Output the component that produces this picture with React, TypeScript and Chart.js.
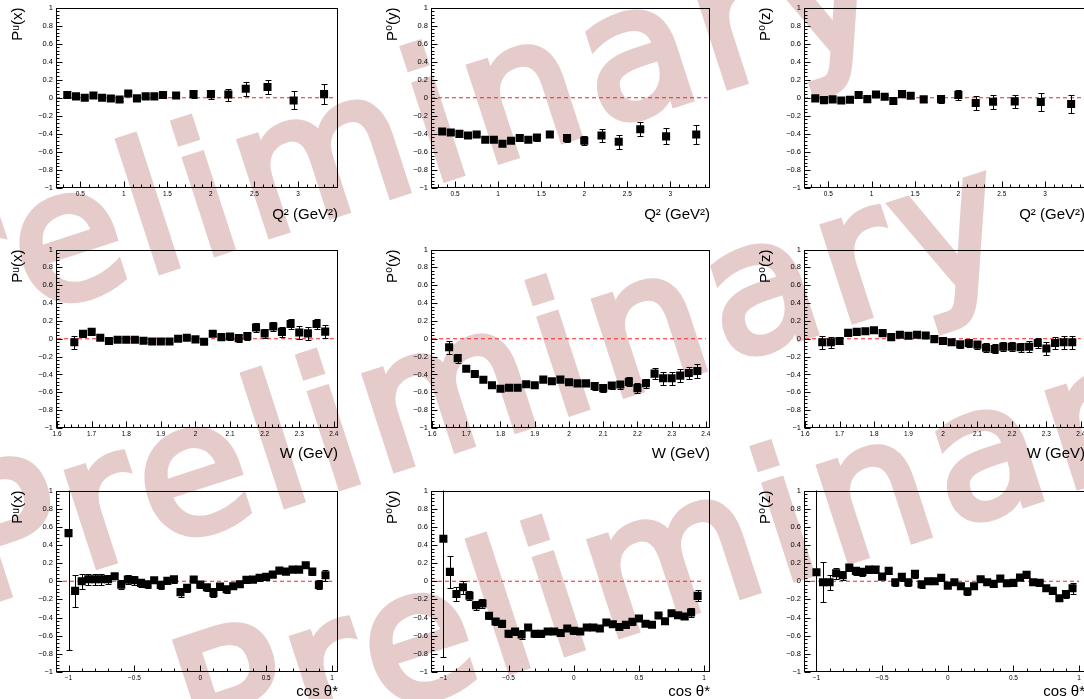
import React, { useEffect, useRef } from "react";
import { Chart, registerables } from "chart.js";

Chart.register(...registerables);
Chart.defaults.font.family = "'Liberation Sans', 'DejaVu Sans', sans-serif";

// ---------------- data ----------------
const q2Bins = [0.35, 0.45, 0.55, 0.65, 0.75, 0.85, 0.95, 1.05, 1.15, 1.25, 1.35, 1.45, 1.6, 1.8, 2.0, 2.2, 2.4, 2.65, 2.95, 3.3];
const puxQ2 = [0.03, 0.015, 0.0, 0.025, 0.0, -0.008, -0.02, 0.048, -0.007, 0.015, 0.015, 0.03, 0.025, 0.04, 0.04, 0.035, 0.1, 0.12, -0.03, 0.04];
const puxQ2Err = [0.02, 0.02, 0.02, 0.02, 0.02, 0.02, 0.02, 0.02, 0.025, 0.025, 0.03, 0.03, 0.03, 0.04, 0.05, 0.066, 0.08, 0.08, 0.1, 0.11];
const p0yQ2 = [-0.374, -0.385, -0.4, -0.418, -0.407, -0.465, -0.465, -0.51, -0.476, -0.447, -0.465, -0.44, -0.407, -0.447, -0.476, -0.418, -0.487, -0.348, -0.428, -0.407];
const p0yQ2Err = [0.02, 0.02, 0.02, 0.02, 0.02, 0.02, 0.02, 0.02, 0.025, 0.03, 0.03, 0.035, 0.03, 0.04, 0.05, 0.07, 0.077, 0.075, 0.09, 0.105];
const p0zQ2 = [-0.007, -0.026, -0.018, -0.03, -0.022, 0.03, -0.015, 0.037, 0.011, -0.037, 0.04, 0.022, -0.018, -0.015, 0.03, -0.059, -0.044, -0.04, -0.048, -0.07];
const p0zQ2Err = [0.02, 0.02, 0.02, 0.02, 0.02, 0.02, 0.02, 0.02, 0.025, 0.025, 0.03, 0.03, 0.03, 0.045, 0.055, 0.077, 0.077, 0.075, 0.1, 0.1];

const wBins = [1.65, 1.675, 1.7, 1.725, 1.75, 1.775, 1.8, 1.825, 1.85, 1.875, 1.9, 1.925, 1.95, 1.975, 2.0, 2.025, 2.05, 2.075, 2.1, 2.125, 2.15, 2.175, 2.2, 2.225, 2.25, 2.275, 2.3, 2.325, 2.35, 2.375];
const puxW = [-0.04, 0.055, 0.077, 0.011, -0.026, -0.011, -0.011, -0.011, -0.022, -0.03, -0.03, -0.03, 0.0, 0.011, -0.007, -0.033, 0.055, 0.018, 0.026, 0.007, 0.03, 0.125, 0.06, 0.137, 0.077, 0.166, 0.07, 0.06, 0.166, 0.08];
const puxWErr = [0.075, 0.04, 0.02, 0.02, 0.015, 0.015, 0.015, 0.015, 0.015, 0.015, 0.015, 0.015, 0.02, 0.02, 0.02, 0.02, 0.025, 0.03, 0.035, 0.04, 0.04, 0.05, 0.05, 0.05, 0.06, 0.06, 0.07, 0.07, 0.06, 0.075];
const p0yW = [-0.096, -0.218, -0.336, -0.395, -0.46, -0.52, -0.56, -0.55, -0.55, -0.51, -0.52, -0.458, -0.476, -0.458, -0.487, -0.5, -0.5, -0.53, -0.553, -0.524, -0.513, -0.483, -0.553, -0.498, -0.391, -0.443, -0.443, -0.413, -0.384, -0.362];
const p0yWErr = [0.07, 0.05, 0.025, 0.015, 0.015, 0.015, 0.015, 0.015, 0.015, 0.015, 0.015, 0.015, 0.02, 0.02, 0.025, 0.03, 0.03, 0.04, 0.04, 0.04, 0.045, 0.05, 0.06, 0.05, 0.06, 0.07, 0.07, 0.07, 0.07, 0.08];
const p0zW = [-0.04, -0.04, -0.026, 0.066, 0.077, 0.085, 0.096, 0.063, 0.018, 0.044, 0.033, 0.044, 0.037, -0.004, -0.026, -0.04, -0.063, -0.048, -0.066, -0.1, -0.114, -0.089, -0.089, -0.096, -0.089, -0.048, -0.11, -0.048, -0.04, -0.04];
const p0zWErr = [0.075, 0.06, 0.03, 0.015, 0.015, 0.015, 0.015, 0.015, 0.015, 0.015, 0.015, 0.015, 0.02, 0.02, 0.025, 0.03, 0.04, 0.04, 0.045, 0.05, 0.05, 0.05, 0.05, 0.05, 0.06, 0.06, 0.07, 0.07, 0.07, 0.07];

const cosBins = [-1, -0.95, -0.9, -0.85, -0.8, -0.75, -0.7, -0.65, -0.6, -0.55, -0.5, -0.45, -0.4, -0.35, -0.3, -0.25, -0.2, -0.15, -0.1, -0.05, 0, 0.05, 0.1, 0.15, 0.2, 0.25, 0.3, 0.35, 0.4, 0.45, 0.5, 0.55, 0.6, 0.65, 0.7, 0.75, 0.8, 0.85, 0.9, 0.95];
const puxCos = [0.53, -0.106, 0.0, 0.022, 0.022, 0.022, 0.022, 0.055, -0.037, 0.018, 0.011, -0.018, -0.033, 0.011, -0.04, 0.004, 0.022, -0.12, -0.073, 0.018, -0.037, -0.066, -0.128, -0.059, -0.088, -0.055, -0.033, 0.015, 0.018, 0.037, 0.048, 0.073, 0.117, 0.106, 0.128, 0.128, 0.176, 0.106, -0.04, 0.066];
const puxCosErr = [1.29, 0.18, 0.085, 0.06, 0.06, 0.06, 0.05, 0.03, 0.05, 0.05, 0.05, 0.04, 0.04, 0.03, 0.04, 0.03, 0.04, 0.05, 0.04, 0.03, 0.04, 0.04, 0.05, 0.04, 0.04, 0.03, 0.03, 0.02, 0.02, 0.02, 0.02, 0.02, 0.02, 0.02, 0.02, 0.02, 0.02, 0.04, 0.05, 0.06];
const p0yCos = [0.469, 0.103, -0.14, -0.066, -0.16, -0.264, -0.245, -0.38, -0.443, -0.469, -0.579, -0.553, -0.586, -0.509, -0.579, -0.579, -0.553, -0.553, -0.571, -0.52, -0.546, -0.553, -0.509, -0.509, -0.52, -0.454, -0.473, -0.505, -0.48, -0.447, -0.41, -0.469, -0.48, -0.377, -0.44, -0.352, -0.374, -0.388, -0.344, -0.161];
const p0yCosErr = [1.3, 0.18, 0.08, 0.07, 0.05, 0.05, 0.05, 0.04, 0.04, 0.04, 0.04, 0.04, 0.05, 0.03, 0.04, 0.04, 0.03, 0.03, 0.03, 0.03, 0.03, 0.03, 0.03, 0.03, 0.03, 0.03, 0.03, 0.03, 0.03, 0.03, 0.02, 0.02, 0.02, 0.02, 0.02, 0.02, 0.02, 0.03, 0.05, 0.06];
const p0zCos = [0.099, -0.011, -0.011, 0.088, 0.066, 0.15, 0.114, 0.103, 0.128, 0.128, 0.051, 0.114, -0.011, 0.048, -0.011, 0.081, -0.033, 0.0, 0.0, 0.037, -0.048, -0.011, -0.055, -0.11, -0.055, 0.022, -0.011, -0.029, 0.029, -0.022, -0.018, 0.04, 0.07, -0.011, -0.018, -0.077, -0.106, -0.187, -0.14, -0.077];
const p0zCosErr = [1.5, 0.22, 0.08, 0.06, 0.05, 0.04, 0.04, 0.04, 0.04, 0.04, 0.03, 0.03, 0.04, 0.04, 0.04, 0.04, 0.04, 0.03, 0.03, 0.03, 0.03, 0.03, 0.03, 0.04, 0.03, 0.03, 0.03, 0.03, 0.03, 0.03, 0.03, 0.02, 0.02, 0.02, 0.02, 0.02, 0.02, 0.03, 0.04, 0.06];

// tick labels
const yTicks = [-1, -0.8, -0.6, -0.4, -0.2, 0, 0.2, 0.4, 0.6, 0.8, 1];
const q2Ticks = [0.5, 1, 1.5, 2, 2.5, 3];
const wTicks = [1.6, 1.7, 1.8, 1.9, 2, 2.1, 2.2, 2.3, 2.4];
const cosTicks = [-1, -0.5, 0, 0.5, 1];

const yTitles = ["P\u1D58(x)", "P\u2070(y)", "P\u2070(z)"];
const xTitles = ["Q\u00B2 (GeV\u00B2)", "W (GeV)", "cos \u03B8*"];
const watermarkText = "Preliminary";

// ---------------- layout / style ----------------
const AXES: any[] = [
  { min: 0.22, max: 3.46, ticks: q2Ticks, minor: 0.1, line: [0.22, 3.43] },
  { min: 1.597, max: 2.412, ticks: wTicks, minor: 0.02, line: [1.6, 2.4] },
  { min: -1.095, max: 1.045, ticks: cosTicks, minor: 0.1, line: [-1.095, 1.0] },
];
const COL_LEFT = [56, 431, 804];
const COL_W = [282, 279, 281];
const ROW_TOP = [6, 248, 489];
const ROW_H = [182, 180, 183];
const TITLE_PB = [4, 5, 11];
const Y_AXIS_W = 56;
const X_AXIS_H = 40;
const PAD_TOP = 6;
const PAD_RIGHT = 8;

const ROWS = [
  [[q2Bins, puxQ2, puxQ2Err], [q2Bins, p0yQ2, p0yQ2Err], [q2Bins, p0zQ2, p0zQ2Err]],
  [[wBins, puxW, puxWErr], [wBins, p0yW, p0yWErr], [wBins, p0zW, p0zWErr]],
  [[cosBins, puxCos, puxCosErr], [cosBins, p0yCos, p0yCosErr], [cosBins, p0zCos, p0zCosErr]],
];

function fmt(v: number) {
  const r = Math.round(v * 1000) / 1000;
  return String(r).replace("-", "\u2212");
}

const rootPlugin = {
  id: "rootStyle",
  beforeDatasetDraw(chart: any, args: any) {
    if (args.index !== 1) return;
    const ds = chart.data.datasets[1];
    const errs: number[] = ds.errors;
    const { ctx, chartArea: a, scales } = chart;
    const xs = scales.x, ys = scales.y;
    ctx.save();
    ctx.beginPath();
    ctx.rect(a.left, a.top, a.right - a.left, a.bottom - a.top);
    ctx.clip();
    ctx.strokeStyle = "#000";
    ctx.lineWidth = 1;
    ds.data.forEach((p: any, i: number) => {
      const px = Math.round(xs.getPixelForValue(p.x)) + 0.5;
      const y1 = Math.round(ys.getPixelForValue(p.y + errs[i])) + 0.5;
      const y2 = Math.round(ys.getPixelForValue(p.y - errs[i])) + 0.5;
      ctx.beginPath();
      ctx.moveTo(px, y1);
      ctx.lineTo(px, y2);
      ctx.moveTo(px - 3, y1);
      ctx.lineTo(px + 3, y1);
      ctx.moveTo(px - 3, y2);
      ctx.lineTo(px + 3, y2);
      ctx.stroke();
    });
    ctx.restore();
  },
  afterDraw(chart: any) {
    const { ctx, chartArea: a, scales } = chart;
    const xs = scales.x, ys = scales.y;
    const ax = chart.options.plugins.rootStyle;
    ctx.save();
    ctx.strokeStyle = "#000";
    ctx.lineWidth = 1;
    const L = Math.round(a.left) + 0.5, R = Math.round(a.right) - 0.5;
    const T = Math.round(a.top) + 0.5, B = Math.round(a.bottom) - 0.5;
    ctx.strokeRect(L, T, R - L, B - T);
    ctx.beginPath();
    for (let k = -25; k <= 25; k++) {
      const v = k * 0.04;
      const py = Math.round(ys.getPixelForValue(v)) + 0.5;
      const len = k % 5 === 0 ? 6 : 3;
      ctx.moveTo(L, py);
      ctx.lineTo(L + len, py);
    }
    const step = ax.minor;
    const kmin = Math.ceil(ax.min / step - 1e-6), kmax = Math.floor(ax.max / step + 1e-6);
    for (let k = kmin; k <= kmax; k++) {
      const v = k * step;
      const isMajor = ax.ticks.some((t: number) => Math.abs(t - v) < 1e-6);
      const px = Math.round(xs.getPixelForValue(v)) + 0.5;
      const len = isMajor ? 6 : 3;
      ctx.moveTo(px, B);
      ctx.lineTo(px, B - len);
    }
    ctx.stroke();
    ctx.restore();
  },
};

function buildConfig(r: number, c: number): any {
  const ax = AXES[r];
  const [xv, yv, ev] = ROWS[r][c] as number[][];
  return {
    type: "scatter",
    data: {
      datasets: [
        {
          data: [{ x: ax.line[0], y: 0 }, { x: ax.line[1], y: 0 }],
          showLine: true,
          borderColor: "#ff2020",
          borderWidth: 1.2,
          borderDash: [4, 3],
          pointRadius: 0,
          order: 2,
        },
        {
          data: xv.map((x, i) => ({ x, y: yv[i] })),
          errors: ev,
          pointStyle: "rect",
          pointRadius: 5.7,
          backgroundColor: "#000",
          borderColor: "#000",
          borderWidth: 0,
          order: 1,
        },
      ],
    },
    options: {
      responsive: false,
      animation: false,
      events: [],
      layout: { padding: { left: 0, right: PAD_RIGHT, top: PAD_TOP, bottom: 0 } },
      plugins: { legend: { display: false }, tooltip: { enabled: false }, rootStyle: ax },
      scales: {
        x: {
          type: "linear",
          position: "bottom",
          min: ax.min,
          max: ax.max,
          grid: { display: false, drawTicks: false },
          border: { display: false },
          ticks: { color: "#000", font: { size: 6.5 }, padding: 2, autoSkip: false, maxRotation: 0, minRotation: 0, callback: (v: number) => fmt(v) },
          afterBuildTicks: (s: any) => { s.ticks = ax.ticks.map((v: number) => ({ value: v })); },
          afterFit: (s: any) => { s.height = X_AXIS_H; },
          title: { display: true, text: xTitles[r], align: "end", color: "#000", font: { size: 15 }, padding: { top: 0, bottom: TITLE_PB[r] } },
        },
        y: {
          type: "linear",
          position: "left",
          min: -1,
          max: 1,
          grid: { display: false, drawTicks: false },
          border: { display: false },
          ticks: { color: "#000", font: { size: 7.5 }, padding: 3, autoSkip: false, callback: (v: number) => fmt(v) },
          afterBuildTicks: (s: any) => { s.ticks = yTicks.map((v) => ({ value: v })); },
          afterFit: (s: any) => { s.width = Y_AXIS_W; },
          title: { display: true, text: yTitles[c], align: "end", color: "#000", font: { size: 15 }, padding: { top: 9, bottom: 0 } },
        },
      },
    },
    plugins: [rootPlugin],
  };
}

function Panel({ r, c }: { r: number; c: number }) {
  const ref = useRef<HTMLCanvasElement>(null);
  const w = Y_AXIS_W + COL_W[c] + PAD_RIGHT;
  const h = PAD_TOP + ROW_H[r] + X_AXIS_H;
  useEffect(() => {
    const chart = new Chart(ref.current as HTMLCanvasElement, buildConfig(r, c));
    return () => chart.destroy();
  }, [r, c]);
  return (
    <canvas
      ref={ref}
      width={w}
      height={h}
      style={{ position: "absolute", left: COL_LEFT[c] - Y_AXIS_W, top: ROW_TOP[r] - PAD_TOP, width: w, height: h, zIndex: 2 }}
    />
  );
}

const WM_SIZE = 180;
const WM_BASE = 152;
const WM_COLOR = "#e6cbcb";
const WATERMARKS = [
  { x: -150, y: 372 },
  { x: -25, y: 606 },
  { x: 200, y: 772 },
];

export default function App() {
  return (
    <div style={{ position: "fixed", left: 0, top: 0, width: 1084, height: 699, overflow: "hidden", background: "#fff" }}>
      {WATERMARKS.map((m, i) => (
        <div
          key={i}
          style={{
            position: "absolute",
            left: m.x,
            top: m.y - WM_BASE,
            fontFamily: "'DejaVu Sans', sans-serif",
            fontWeight: "normal",
            fontSize: WM_SIZE,
            lineHeight: `${WM_SIZE}px`,
            letterSpacing: 8,
            color: WM_COLOR,
            WebkitTextStroke: `7px ${WM_COLOR}`,
            whiteSpace: "nowrap",
            transform: "rotate(-18deg)",
            transformOrigin: `0px ${WM_BASE}px`,
            zIndex: 1,
            userSelect: "none",
          } as any}
        >
          {watermarkText}
        </div>
      ))}
      {[0, 1, 2].map((r) => [0, 1, 2].map((c) => <Panel key={`${r}-${c}`} r={r} c={c} />))}
    </div>
  );
}
